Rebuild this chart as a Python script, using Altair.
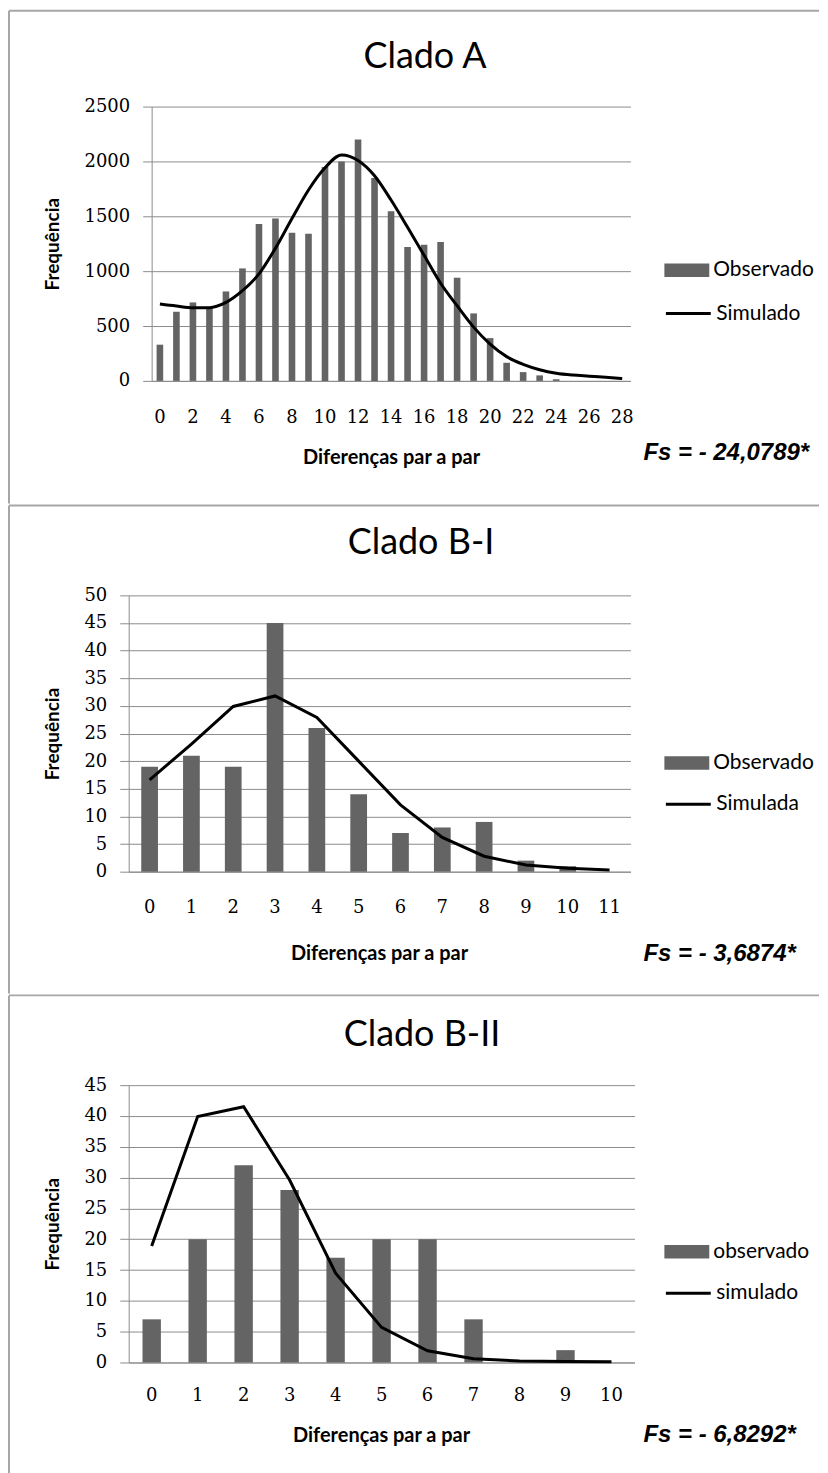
import altair as alt
import pandas as pd

# ---------------- data ----------------
A_CATS = list(range(29))
A_OBS = [330, 630, 715, 660, 815, 1025, 1430, 1480, 1350, 1340, 1950, 2000, 2200, 1850,
         1545, 1220, 1240, 1265, 940, 615, 390, 165, 80, 50, 15, 0, 0, 0, 0]
A_SIM = [700, 682, 667, 667, 715, 822, 975, 1210, 1480, 1740, 1942, 2058, 2009, 1870,
         1648, 1400, 1145, 890, 685, 490, 335, 221, 151, 102, 70, 53, 43, 33, 22]

BI_CATS = list(range(12))
BI_OBS = [19, 21, 19, 45, 26, 14, 7, 8, 9, 2, 1, 0]
BI_SIM = [16.6, 23.1, 29.9, 31.8, 27.9, 20.0, 12.1, 6.2, 2.8, 1.2, 0.6, 0.3]

BII_CATS = list(range(11))
BII_OBS = [7, 20, 32, 28, 17, 20, 20, 7, 0, 2, 0]
BII_SIM = [18.9, 39.9, 41.5, 29.6, 14.5, 5.7, 1.9, 0.6, 0.25, 0.15, 0.1]

TITLES = ["Clado A", "Clado B-I", "Clado B-II"]
FS_TEXT = ["Fs = - 24,0789*", "Fs = - 3,6874*", "Fs = - 6,8292*"]
OBS_LABELS = ["Observado", "Observado", "observado"]
SIM_LABELS = ["Simulado", "Simulada", "simulado"]
Y_MAX = [2500, 50, 45]
Y_STEP = [500, 5, 5]
X_LABEL_STEP = [2, 1, 1]
X_TITLE = "Diferenças par a par"
Y_TITLE = "Frequência"

# ---------------- layout (global page pixels) ----------------
ORIGIN = 128          # common left edge of every panel's plot group
LAYOUT = [
    dict(axis=151, right=631, T=104, H=275, top=8, bot=502, tx=425, ty=54, fsy=451,
         xl=37, xt=77, xtc=391, lg1=268, lg2=310, interp="monotone"),
    dict(axis=128, right=631, T=592, H=277, top=502, bot=991, tx=421, ty=540, fsy=952,
         xl=36, xt=82, xtc=379, lg1=760, lg2=800, interp="linear"),
    dict(axis=128, right=635, T=1081, H=278, top=991, bot=1470, tx=422, ty=1031, fsy=1432,
         xl=33, xt=73, xtc=381, lg1=1248, lg2=1288, interp="linear"),
]
LEFT_EDGE = 8
RIGHT_EDGE = 820
FS_X = 644
LEGEND_X = 665
FRAME = "#a6a6a6"
GRID = "#8c8c8c"
BAR = "#646464"


def panel(i, cats, obs, sim):
    P = LAYOUT[i]
    L, T, H = ORIGIN, P["T"], P["H"]
    W = P["right"] - ORIGIN
    shift = P["axis"] - ORIGIN
    df = pd.DataFrame({"d": cats, "obs": obs, "sim": sim,
                       "o": OBS_LABELS[i], "s": SIM_LABELS[i]})
    one = alt.Data(values=[{"k": 1}])

    xaxis = alt.Axis(
        values=cats[::X_LABEL_STEP[i]], labelAngle=0, ticks=False, tickSize=0,
        grid=False, domainColor=GRID, labelBaseline="middle", labelOverlap=False,
        labelPadding=P["xl"], title=X_TITLE, titleBaseline="middle",
        titleX=P["xtc"] - L, titleY=P["xt"], titleFontSize=20,
    )
    xscale = alt.Scale(paddingInner=0.6, paddingOuter=0.3, range=[shift, W])
    yscale = alt.Scale(domain=[0, Y_MAX[i]], nice=False)
    yaxis = alt.Axis(
        values=list(range(0, Y_MAX[i] + 1, Y_STEP[i])), format="d",
        labelOverlap=False, grid=True, gridColor=GRID, offset=-shift,
        tickSize=9, tickColor=GRID, domainColor=GRID, labelPadding=13,
        title=Y_TITLE, titleX=62 - P["axis"], titleY=H / 2, titleFontSize=19,
    )

    bars = alt.Chart(df).mark_bar().encode(
        x=alt.X("d:O", scale=xscale, axis=xaxis),
        y=alt.Y("obs:Q", scale=yscale, axis=yaxis),
        fill=alt.Fill(
            "o:N",
            scale=alt.Scale(domain=[OBS_LABELS[i]], range=[BAR]),
            legend=alt.Legend(
                orient="none", legendX=LEGEND_X - L, legendY=P["lg1"] - T - 22.5,
                title=None, symbolType="M-1,-0.3H1V0.3H-1Z", symbolSize=2025,
                symbolStrokeWidth=0, labelFont="Lato", labelFontSize=21,
                labelColor="black", labelOffset=4, padding=0,
            ),
        ),
    )
    line = alt.Chart(df).mark_line(strokeWidth=3, interpolate=P["interp"]).encode(
        x=alt.X("d:O", scale=xscale, axis=xaxis),
        y=alt.Y("sim:Q", scale=yscale, axis=yaxis),
        stroke=alt.Stroke(
            "s:N",
            scale=alt.Scale(domain=[SIM_LABELS[i]], range=["black"]),
            legend=alt.Legend(
                orient="none", legendX=LEGEND_X - L, legendY=P["lg2"] - T - 22.5,
                title=None, symbolType="stroke", symbolSize=2025,
                symbolStrokeWidth=3, labelFont="Lato", labelFontSize=21,
                labelColor="black", labelOffset=4, padding=0,
            ),
        ),
    )
    title = alt.Chart(alt.Data(values=[{"t": TITLES[i]}])).mark_text(
        font="Lato", fontSize=36, align="center", baseline="middle", color="black"
    ).encode(x=alt.value(P["tx"] - L), y=alt.value(P["ty"] - T), text="t:N")
    fs = alt.Chart(alt.Data(values=[{"t": FS_TEXT[i]}])).mark_text(
        font="Liberation Sans", fontSize=24, fontStyle="italic", fontWeight="bold",
        align="left", baseline="middle", color="black"
    ).encode(x=alt.value(FS_X - L), y=alt.value(P["fsy"] - T), text="t:N")

    top_rule = alt.Chart(one).mark_rule(color=FRAME, strokeWidth=2).encode(
        x=alt.value(LEFT_EDGE - L), x2=alt.value(RIGHT_EDGE - L),
        y=alt.value(P["top"] - T))
    left_rule = alt.Chart(one).mark_rule(color=FRAME, strokeWidth=2).encode(
        x=alt.value(LEFT_EDGE - L), y=alt.value(P["top"] - T),
        y2=alt.value(P["bot"] - T))

    return alt.layer(top_rule, left_rule, bars, line, title, fs).properties(
        width=W, height=H)


chart = alt.vconcat(
    panel(0, A_CATS, A_OBS, A_SIM),
    panel(1, BI_CATS, BI_OBS, BI_SIM),
    panel(2, BII_CATS, BII_OBS, BII_SIM),
    spacing=0,
).resolve_scale(
    fill="independent", stroke="independent"
).resolve_legend(
    fill="independent", stroke="independent"
).properties(
    padding=0, background="white"
).configure_view(
    strokeWidth=0
).configure_axis(
    labelFont="DejaVu Serif", labelFontSize=18, labelColor="black",
    titleFont="Lato", titleFontWeight="bold", titleColor="black",
)

chart.save("out.html", embed_options={"renderer": "svg", "actions": False})
